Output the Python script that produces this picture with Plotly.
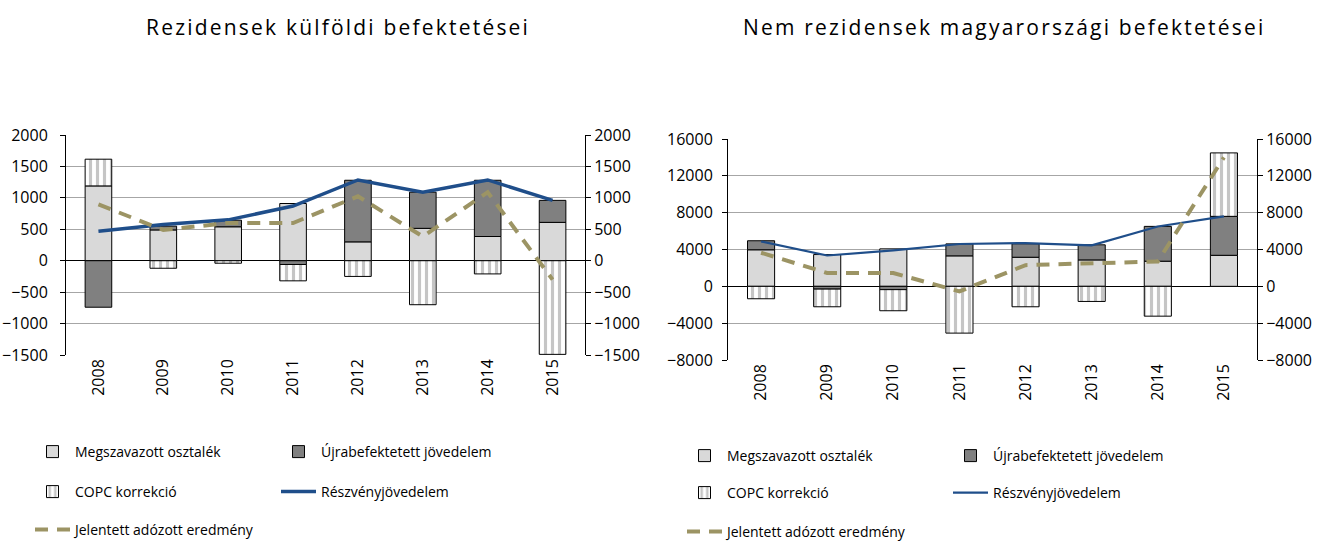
import plotly.graph_objects as go

years = ["2008", "2009", "2010", "2011", "2012", "2013", "2014", "2015"]

# Rezidensek külföldi befektetései (left)
osztalek_L = [1190, 490, 540, 910, 300, 515, 385, 610]
ujra_L = [-740, 60, 105, -60, 980, 575, 895, 350]
copc_L = [425, -120, -40, -260, -250, -700, -210, -1490]
reszveny_L = [470, 575, 650, 870, 1285, 1090, 1285, 960]
jelentett_L = [895, 490, 600, 600, 1025, 385, 1090, -300]

# Nem rezidensek magyarországi befektetései (right)
osztalek_R = [3970, 3450, 4070, 3310, 3160, 2870, 2730, 3370]
ujra_R = [980, -300, -360, 1300, 1460, 1640, 3780, 4230]
copc_R = [-1350, -1920, -2290, -5080, -2220, -1640, -3240, 6890]
reszveny_R = [4870, 3350, 3900, 4600, 4700, 4450, 6500, 7600]
jelentett_R = [3650, 1450, 1450, -550, 2300, 2500, 2700, 14000]

titles = ["Rezidensek külföldi befektetései", "Nem rezidensek magyarországi befektetései"]
names = ["Megszavazott osztalék", "Újrabefektetett jövedelem", "COPC korrekció",
         "Részvényjövedelem", "Jelentett adózott eredmény"]

FONT = "Open Sans"
LIGHT = "#d9d9d9"
DARK = "#808080"
BLUE = "#1f4e8a"
OLIVE = "#9c9464"
GRID = "#a6a6a6"

W, H = 1333, 542
fig = go.Figure()

def add_chart(xa, ya, ya2, data, leg_ids, blue_w):
    osz, ujr, cop, rsz, jel = data
    fig.add_trace(go.Bar(x=years, y=osz, name=names[0], xaxis=xa, yaxis=ya, width=0.41,
                         marker=dict(color=LIGHT, line=dict(color="black", width=1)),
                         legend=leg_ids[0], showlegend=True))
    fig.add_trace(go.Bar(x=years, y=ujr, name=names[1], xaxis=xa, yaxis=ya, width=0.41,
                         marker=dict(color=DARK, line=dict(color="black", width=1)),
                         legend=leg_ids[1], showlegend=True))
    fig.add_trace(go.Bar(x=years, y=cop, name=names[2], xaxis=xa, yaxis=ya, width=0.41,
                         marker=dict(color="white", line=dict(color="black", width=1),
                                     pattern=dict(shape="|", fgcolor="#8c8c8c", bgcolor="white",
                                                  size=7, solidity=0.45, fillmode="overlay")),
                         legend=leg_ids[2], showlegend=True))
    fig.add_trace(go.Scatter(x=years, y=rsz, name=names[3], xaxis=xa, yaxis=ya2, mode="lines",
                             line=dict(color=BLUE, width=blue_w), legend=leg_ids[3],
                             showlegend=True))
    fig.add_trace(go.Scatter(x=years, y=jel, name=names[4], xaxis=xa, yaxis=ya2, mode="lines",
                             line=dict(color=OLIVE, width=4, dash="13px,9px"), legend=leg_ids[4],
                             showlegend=True))

add_chart("x", "y", "y2", (osztalek_L, ujra_L, copc_L, reszveny_L, jelentett_L),
          ["legend", "legend2", "legend3", "legend4", "legend5"], 3.5)
add_chart("x2", "y3", "y4", (osztalek_R, ujra_R, copc_R, reszveny_R, jelentett_R),
          ["legend6", "legend7", "legend8", "legend9", "legend10"], 2.2)

tickfont = dict(family=FONT, size=16, color="black")

def px_x(p):
    return p / W

def px_y(p):
    return (H - p) / H

def yaxis_common(rng, dtick, side, show_grid, standoff, overlay=None, anchor="x"):
    d = dict(range=rng, dtick=dtick, tickfont=tickfont, showline=True, linecolor="black",
             linewidth=1, ticks="outside", ticklen=5, tickcolor="black", side=side,
             showgrid=show_grid, gridcolor=GRID, gridwidth=1, zeroline=show_grid,
             zerolinecolor="black", zerolinewidth=1, anchor=anchor, tickformat="d",
             ticklabelstandoff=standoff, automargin=False)
    if overlay:
        d["overlaying"] = overlay
    return d

L_dom_x = [px_x(66), px_x(585)]
R_dom_x = [px_x(728), px_x(1257)]
L_dom_y = [px_y(355), px_y(135)]
R_dom_y = [px_y(360), px_y(139)]

xaxis_common = dict(type="category", tickangle=-90, tickfont=tickfont, showline=False,
                    showgrid=False, ticks="", ticklabelstandoff=0, automargin=False)

fig.update_layout(
    width=W, height=H, margin=dict(l=0, r=0, t=0, b=0, autoexpand=False),
    paper_bgcolor="white", plot_bgcolor="white",
    barmode="relative", showlegend=True,
    font=dict(family=FONT, color="black"),
    xaxis=dict(domain=L_dom_x, anchor="y", **xaxis_common),
    yaxis=dict(domain=L_dom_y, **yaxis_common([-1500, 2000], 500, "left", True, 9)),
    yaxis2=yaxis_common([-1500, 2000], 500, "right", False, 0, overlay="y", anchor="x"),
    xaxis2=dict(domain=R_dom_x, anchor="y3", **xaxis_common),
    yaxis3=dict(domain=R_dom_y, **yaxis_common([-8000, 16000], 4000, "left", True, 6,
                                                 anchor="x2")),
    yaxis4=yaxis_common([-8000, 16000], 4000, "right", False, 0, overlay="y3", anchor="x2"),
)

# Titles
for t, cx in zip(titles, [338, 1004]):
    fig.add_annotation(text='<span style="letter-spacing:2.2px">' + t + '</span>',
                       x=px_x(cx), y=px_y(27), xref="paper", yref="paper",
                       xanchor="center", yanchor="middle", showarrow=False,
                       font=dict(family=FONT, size=21, color="black"))

# Legends: one per item, positioned as in the reference
legfont = dict(family=FONT, size=14, color="black")
leg_pos = {
    "legend": (30, 452), "legend2": (276, 452), "legend3": (30, 492),
    "legend4": (276, 492), "legend5": (30, 530),
    "legend6": (682, 456), "legend7": (948, 456), "legend8": (682, 493),
    "legend9": (948, 493), "legend10": (682, 532),
}
for k, (lx, ly) in leg_pos.items():
    fig.update_layout(**{k: dict(x=px_x(lx), y=px_y(ly), xanchor="left", yanchor="middle",
                                 xref="paper", yref="paper", font=legfont, visible=True,
                                 bgcolor="rgba(0,0,0,0)", borderwidth=0, itemwidth=35)})

fig.write_html("out.html", config={"displayModeBar": False},
               post_script="document.body.style.margin='0px';document.body.style.padding='0px';")
